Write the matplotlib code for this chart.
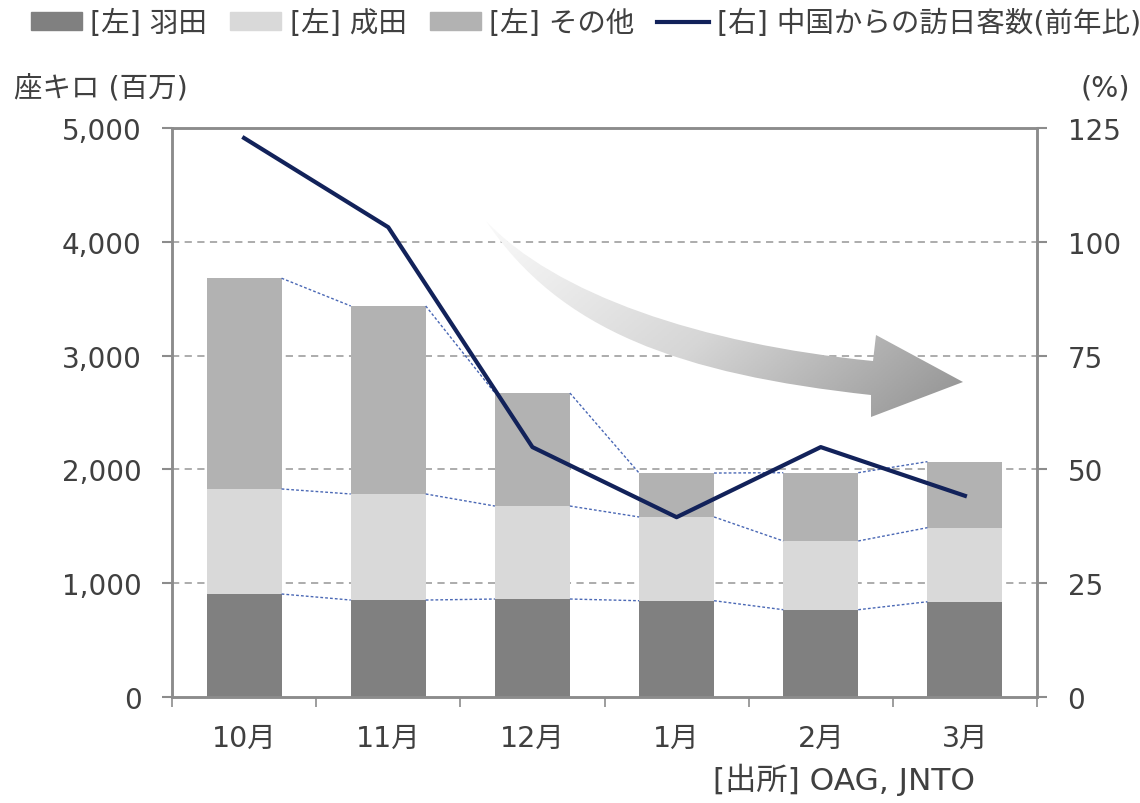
import numpy as np
import matplotlib.pyplot as plt
from matplotlib.path import Path
from matplotlib.patches import PathPatch, Patch
from matplotlib.lines import Line2D
from matplotlib.colors import LinearSegmentedColormap
from matplotlib.ticker import FuncFormatter

plt.rcParams['font.family'] = ['DejaVu Sans', 'Noto Sans CJK JP']

months = ['10月', '11月', '12月', '1月', '2月', '3月']
haneda = [905, 852, 861, 846, 767, 837]
narita = [923, 932, 817, 736, 604, 651]
other = [1852, 1652, 993, 386, 600, 580]
china_yoy = [122.8, 103.2, 54.9, 39.5, 54.9, 44.2]

c_haneda = '#808080'
c_narita = '#d9d9d9'
c_other = '#b2b2b2'
c_line = '#12225a'
c_axis = '#8c8c8c'
c_text = '#404040'

fig = plt.figure(figsize=(11.4, 8.04), dpi=100)
ax = fig.add_axes([172 / 1140, 106 / 804, 865 / 1140, 569 / 804])
x = np.arange(len(months))
w = 0.52

h = np.array(haneda)
n = np.array(narita)
o = np.array(other)
ax.bar(x, h, w, color=c_haneda, zorder=2)
ax.bar(x, n, w, bottom=h, color=c_narita, zorder=2)
ax.bar(x, o, w, bottom=h + n, color=c_other, zorder=2)

# series lines between bars
for lvl in [h, h + n, h + n + o]:
    for i in range(len(x) - 1):
        ax.plot([x[i] + w / 2, x[i + 1] - w / 2], [lvl[i], lvl[i + 1]],
                color='#4a68b5', lw=1.0, ls=(0, (2, 1.5)), zorder=3)

ax.set_xlim(-0.5, 5.5)
ax.set_ylim(0, 5000)
ax.set_yticks(range(0, 5001, 1000))
ax.yaxis.set_major_formatter(FuncFormatter(lambda v, p: f'{int(v):,}'))
ax.set_xticks(x)
ax.set_xticklabels(months)
ax.set_xticks(np.arange(-0.5, 6, 1), minor=True)
ax.tick_params(axis='x', which='major', length=0, pad=19.5, labelsize=20.5, colors=c_text)
ax.tick_params(axis='x', which='minor', length=7, width=1.2, color=c_axis)
ax.tick_params(axis='y', length=7, width=1.5, color=c_axis, pad=15, labelsize=20,
               labelcolor=c_text)
for yv in range(1000, 5000, 1000):
    ax.axhline(yv, color='#a6a6a6', lw=1.3, ls=(0, (4, 3)), zorder=1)
for s in ax.spines.values():
    s.set_color(c_axis)
    s.set_linewidth(1.8)

ax2 = ax.twinx()
ax2.plot(x, china_yoy, color=c_line, lw=3, zorder=4)
ax2.set_ylim(0, 125)
ax2.set_yticks(range(0, 126, 25))
ax2.tick_params(axis='y', length=7, width=1.5, color=c_axis, pad=15, labelsize=20,
                labelcolor=c_text)
for s in ax2.spines.values():
    s.set_color(c_axis)
    s.set_linewidth(1.8)

# curved gradient arrow (figure pixel coordinates)
ov = fig.add_axes([0, 0, 1, 1], zorder=5)
ov.set_xlim(0, 1140)
ov.set_ylim(804, 0)
ov.axis('off')
verts = [(486, 222), (555, 295), (700, 345), (873, 362),
         (876, 336), (963, 383), (871, 418), (871, 396),
         (680, 375), (560, 332), (486, 222), (486, 222)]
codes = [Path.MOVETO, Path.CURVE4, Path.CURVE4, Path.CURVE4,
         Path.LINETO, Path.LINETO, Path.LINETO, Path.LINETO,
         Path.CURVE4, Path.CURVE4, Path.CURVE4, Path.CLOSEPOLY]
arrow = PathPatch(Path(verts, codes), facecolor='none', edgecolor='none')
ov.add_patch(arrow)
gx, gy = np.meshgrid(np.linspace(0, 1, 200), np.linspace(0, 1, 200))
grad = gx * 0.8 + gy * 0.4
cmap = LinearSegmentedColormap.from_list('g', ['#fbfbfb', '#d6d6d6', '#8e8e8e'])
im = ov.imshow(grad, cmap=cmap, extent=(480, 970, 425, 215), origin='upper',
               aspect='auto', interpolation='bilinear')
im.set_clip_path(arrow)

# texts
fig.text(14 / 1140, 1 - 88 / 804, '座キロ (百万)', fontsize=20.5, color=c_text,
         va='center', ha='left')
fig.text(1130 / 1140, 1 - 88 / 804, '(%)', fontsize=20.5, color=c_text,
         va='center', ha='right')
fig.text(975 / 1140, 1 - 780 / 804, '[出所] OAG, JNTO', fontsize=22.5, color=c_text,
         va='center', ha='right')

handles = [Patch(color=c_haneda), Patch(color=c_narita), Patch(color=c_other),
           Line2D([], [], color=c_line, lw=3)]
labels = ['[左] 羽田', '[左] 成田', '[左] その他', '[右] 中国からの訪日客数(前年比)']
fig.legend(handles, labels, loc='center', bbox_to_anchor=(586 / 1140, 1 - 24 / 804),
           ncol=4, frameon=False, fontsize=20.5, handlelength=1.8, handleheight=0.6,
           handletextpad=0.3, columnspacing=0.8, labelcolor=c_text,
           borderaxespad=0, borderpad=0)

fig.savefig('out.png', dpi=100)
